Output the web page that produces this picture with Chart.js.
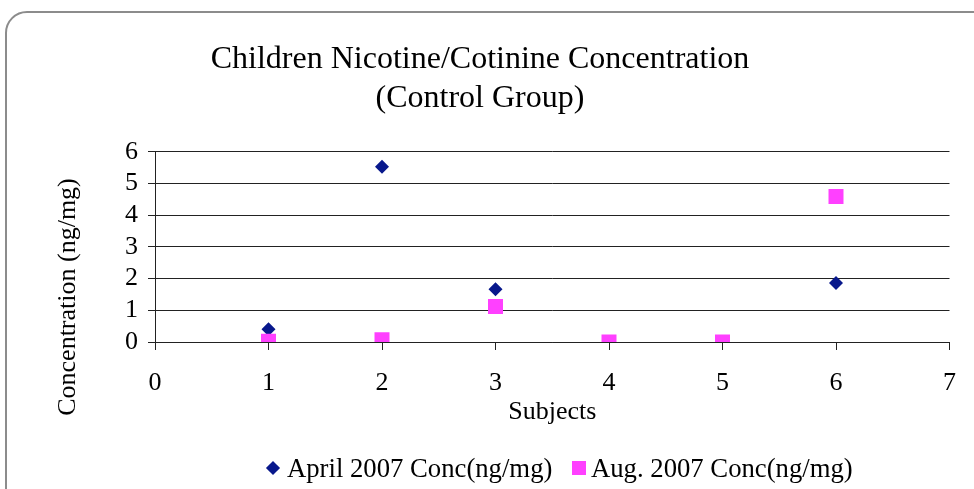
<!DOCTYPE html>
<html>
<head>
<meta charset="utf-8">
<script src="https://cdn.jsdelivr.net/npm/chart.js@4.4.1/dist/chart.umd.min.js"></script>
<style>
    body { margin: 0; background: #fff; overflow: hidden; }
    #wrap { position: relative; width: 974px; height: 489px; overflow: hidden; font-family: "Liberation Serif", "Times New Roman", serif; }
    #frame { position: absolute; left: 5px; top: 11px; width: 1000px; height: 520px; border: 2px solid #8c8c8c; border-radius: 22px; box-sizing: border-box; }
    #chartBox { position: absolute; left: 0; top: 0; width: 974px; height: 489px; }
    .legText { position: absolute; top: 453px; font-size: 26.7px; line-height: 30px; color: #000; white-space: nowrap; }
    .legMark { position: absolute; }
    #yTitle { position: absolute; left: -83px; top: 282px; width: 300px; height: 30px; line-height: 30px; font-size: 26px; text-align: center; color: #000; white-space: nowrap; transform: rotate(-90deg); }
</style>
</head>
<body>
<div id="wrap">
    <div id="frame"></div>
    <div id="chartBox"><canvas id="scatterChart"></canvas></div>
    <div id="yTitle"></div>
    <div class="legMark" style="left:267.5px; top:463px; width:10px; height:10px; background:#08188c; transform:rotate(45deg);"></div>
    <div class="legText" id="leg0" style="left:287px;"></div>
    <div class="legMark" style="left:572px; top:461px; width:14px; height:14px; background:#ff40ff;"></div>
    <div class="legText" id="leg1" style="left:591px;"></div>
</div>
<script>
document.addEventListener("DOMContentLoaded", function () {
    // values
    const subjects = [1, 2, 3, 4, 5, 6];
    const aprilConc = [0.4, 5.53, 1.66, 0, 0, 1.86];
    const augConc = [0.02, 0.07, 1.12, 0, 0, 4.59];
    const seriesNames = ["April 2007 Conc(ng/mg)", "Aug. 2007 Conc(ng/mg)"];
    const titleLines = ["Children Nicotine/Cotinine Concentration", "(Control Group)"];
    const xTitle = "Subjects";
    const yTitle = "Concentration (ng/mg)";

    const serif = "'Liberation Serif', 'Times New Roman', serif";
    const lineColor = "#222";

    // legend and y title are plain html text
    document.getElementById("leg0").textContent = seriesNames[0];
    document.getElementById("leg1").textContent = seriesNames[1];
    document.getElementById("yTitle").textContent = yTitle;

    function toPoints(values)
    {
        return subjects.map((s, i) => ({ x: s, y: values[i] }));
    }

    const ctx = document.getElementById("scatterChart").getContext("2d");

    new Chart(ctx, {
        type: "scatter",
        data: {
            datasets: [
                {
                    label: seriesNames[0],
                    data: toPoints(aprilConc),
                    pointStyle: "rectRot",
                    pointRadius: 7,
                    pointHoverRadius: 7,
                    backgroundColor: "#08188c",
                    borderColor: "#08188c",
                    borderWidth: 0,
                    order: 1,
                },
                {
                    label: seriesNames[1],
                    data: toPoints(augConc),
                    pointStyle: "rect",
                    pointRadius: 10.6,
                    pointHoverRadius: 10.6,
                    backgroundColor: "#ff40ff",
                    borderColor: "#ff40ff",
                    borderWidth: 0,
                    order: 0, // pink squares sit on top
                },
            ],
        },
        options: {
            responsive: true,
            maintainAspectRatio: false,
            animation: false,
            layout: {
                padding: { left: 9, right: 23, top: 0, bottom: 61 },
            },
            plugins: {
                legend: { display: false },
                tooltip: { enabled: false },
                title: {
                    display: true,
                    text: titleLines,
                    color: "#000",
                    font: { family: serif, size: 32, weight: "normal", lineHeight: 1.23 },
                    padding: { top: 40, bottom: 33 },
                },
            },
            scales: {
                x: {
                    type: "linear",
                    min: 0,
                    max: 7,
                    ticks: {
                        stepSize: 1,
                        autoSkip: false,
                        color: "#000",
                        padding: 18,
                        font: { family: serif, size: 26 },
                    },
                    grid: {
                        drawOnChartArea: false,
                        drawTicks: true,
                        tickLength: 8,
                        color: lineColor,
                    },
                    border: { display: true, color: lineColor },
                    title: {
                        display: true,
                        text: xTitle,
                        color: "#000",
                        font: { family: serif, size: 26 },
                        padding: { top: 0, bottom: 0 },
                    },
                    afterFit: function (scale) { scale.height = 86; },
                },
                y: {
                    min: 0,
                    max: 6,
                    ticks: {
                        stepSize: 1,
                        autoSkip: false,
                        color: "#000",
                        padding: 10,
                        font: { family: serif, size: 26 },
                    },
                    grid: {
                        drawOnChartArea: true,
                        drawTicks: true,
                        tickLength: 7,
                        color: lineColor,
                    },
                    border: { display: true, color: lineColor },
                    title: { display: false },
                    afterFit: function (scale) { scale.width = 146; },
                },
            },
        },
    });
});
</script>
</body>
</html>
